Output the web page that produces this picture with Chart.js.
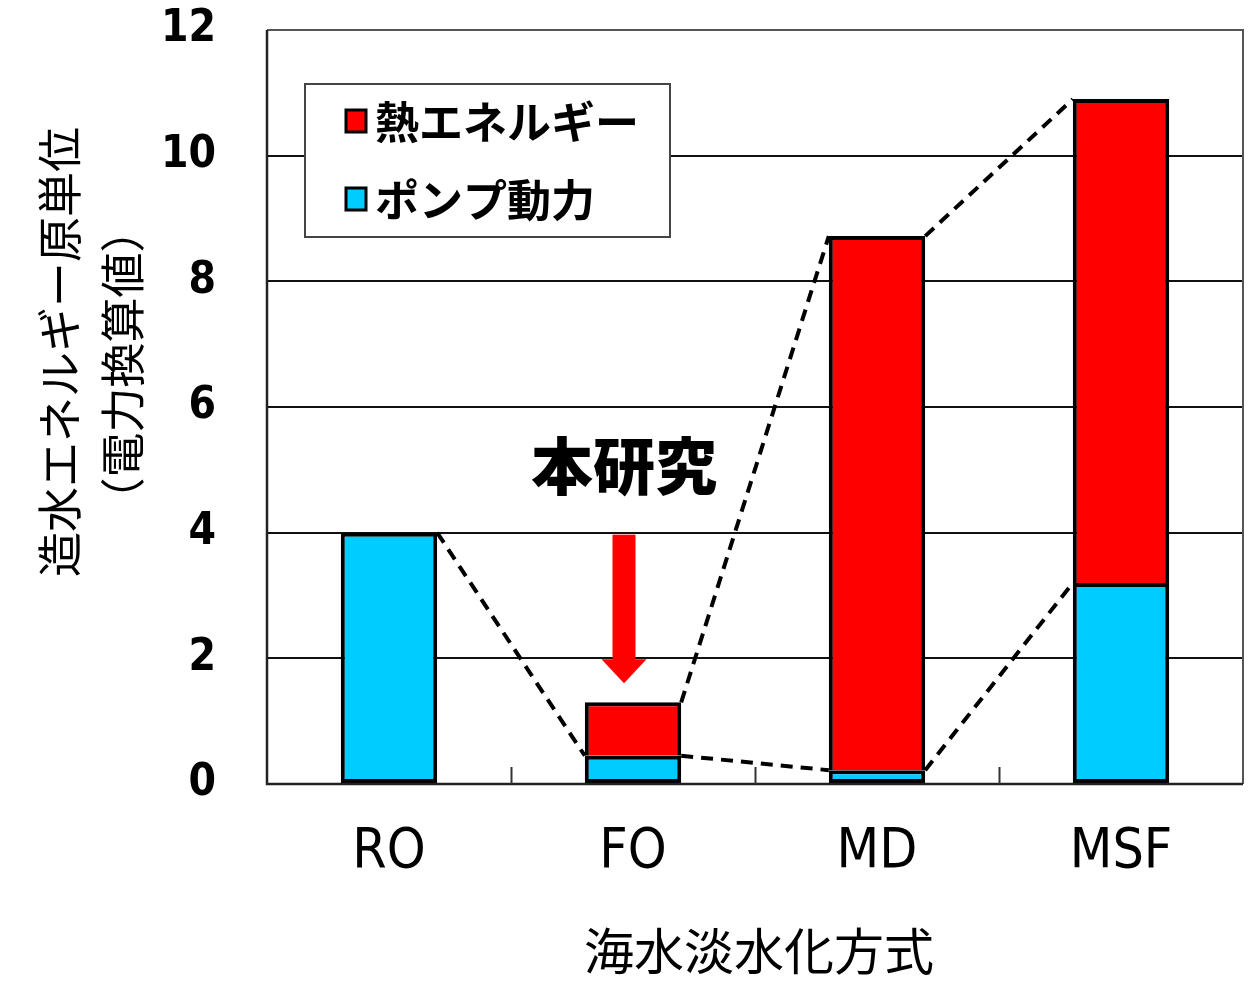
<!DOCTYPE html>
<html lang="ja">
<head>
<meta charset="utf-8">
<title>海水淡水化方式別 造水エネルギー原単位</title>
<script src="https://cdn.jsdelivr.net/npm/chart.js@4.4.1/dist/chart.umd.min.js"></script>
<style>
  html, body { margin: 0; padding: 0; background: #fff; }
  #wrap { width: 1254px; height: 984px; }
</style>
</head>
<body>
<div id="wrap"><canvas id="c" width="1254" height="984"></canvas></div>
<script>
// Desalination methods and their specific energy use (electricity equivalent)
const categories = ['RO', 'FO', 'MD', 'MSF'];
const pumpPower = [4.0, 0.45, 0.22, 3.2];       // ポンプ動力
const thermalEnergy = [null, 0.85, 8.5, 7.7];  // 熱エネルギー
const yMin = 0, yMax = 12, yStep = 2;

const seriesNames = { pump: 'ポンプ動力', heat: '熱エネルギー' };
const highlightCategory = 'FO';
const highlightText = '本研究';
const xTitle = '海水淡水化方式';
const yTitleLines = ['造水エネルギー原単位', '（電力換算値）'];

const RED = '#ff0000';
const CYAN = '#00ccff';
const CJK = '"Noto Sans CJK JP", "Noto Sans", sans-serif';
const NARROW = '"Liberation Sans Narrow", "DejaVu Sans Condensed", "Liberation Sans", sans-serif';

// Dashed connectors between the top corners of matching segments of neighbouring bars
const connectors = {
  id: 'connectors',
  afterDatasetsDraw(chart) {
    const ctx = chart.ctx;
    ctx.save();
    ctx.strokeStyle = '#000';
    ctx.lineWidth = 4;
    ctx.setLineDash([12, 8]);
    chart.data.datasets.forEach((ds, di) => {
      const meta = chart.getDatasetMeta(di);
      for (let i = 0; i < categories.length - 1; i++) {
        if (ds.data[i] == null || ds.data[i + 1] == null) continue;
        const pa = meta.data[i].getProps(['x', 'y', 'width'], true);
        const pb = meta.data[i + 1].getProps(['x', 'y', 'width'], true);
        ctx.beginPath();
        ctx.moveTo(pa.x + pa.width / 2, pa.y);
        ctx.lineTo(pb.x - pb.width / 2, pb.y);
        ctx.stroke();
      }
    });
    ctx.restore();
  }
};

// Frame, inward category ticks, legend box, arrow callout and axis titles
const decorations = {
  id: 'decorations',
  afterDraw(chart) {
    const ctx = chart.ctx;
    const area = chart.chartArea;
    const ys = chart.scales.y;
    ctx.save();

    // plot frame
    ctx.strokeStyle = '#555';
    ctx.lineWidth = 2;
    ctx.beginPath();
    ctx.moveTo(area.left, area.top);
    ctx.lineTo(area.right, area.top);
    ctx.lineTo(area.right, area.bottom);
    ctx.stroke();
    ctx.strokeStyle = '#222';
    ctx.lineWidth = 2.5;
    ctx.beginPath();
    ctx.moveTo(area.left, area.top);
    ctx.lineTo(area.left, area.bottom);
    ctx.lineTo(area.right, area.bottom);
    ctx.stroke();

    // inward tick marks between categories
    ctx.strokeStyle = '#333';
    ctx.lineWidth = 2;
    const step = (area.right - area.left) / categories.length;
    for (let i = 1; i < categories.length; i++) {
      const x = Math.round(area.left + step * i) + 0.5;
      ctx.beginPath();
      ctx.moveTo(x, area.bottom);
      ctx.lineTo(x, area.bottom - 17);
      ctx.stroke();
    }

    // legend
    const lg = { x: 305, y: 84, w: 365, h: 153 };
    ctx.fillStyle = '#fff';
    ctx.fillRect(lg.x, lg.y, lg.w, lg.h);
    ctx.strokeStyle = '#444';
    ctx.lineWidth = 2;
    ctx.strokeRect(lg.x, lg.y, lg.w, lg.h);
    const items = [
      { label: seriesNames.heat, color: RED, cy: 121 },
      { label: seriesNames.pump, color: CYAN, cy: 199 }
    ];
    items.forEach(it => {
      ctx.fillStyle = it.color;
      ctx.fillRect(346, it.cy - 11, 20, 22);
      ctx.strokeStyle = '#000';
      ctx.lineWidth = 3;
      ctx.strokeRect(346, it.cy - 11, 20, 22);
      ctx.fillStyle = '#000';
      ctx.font = 'bold 44px ' + CJK;
      ctx.textAlign = 'left';
      ctx.textBaseline = 'middle';
      ctx.fillText(it.label, 375, it.cy + 1);
    });

    // arrow pointing at the highlighted bar
    const hi = categories.indexOf(highlightCategory);
    const bar = chart.getDatasetMeta(1).data[hi].getProps(['x', 'y'], true);
    const ax = bar.x - 9;
    const shaftTop = ys.getPixelForValue(4) + 2;
    const tip = bar.y - 19;
    const headH = 24;
    ctx.fillStyle = RED;
    ctx.fillRect(ax - 11.5, shaftTop, 23, tip - headH - shaftTop + 1);
    ctx.beginPath();
    ctx.moveTo(ax - 22.5, tip - headH);
    ctx.lineTo(ax + 22.5, tip - headH);
    ctx.lineTo(ax, tip);
    ctx.closePath();
    ctx.fill();
    ctx.fillStyle = '#000';
    ctx.font = '900 62px ' + CJK;
    ctx.textAlign = 'center';
    ctx.textBaseline = 'middle';
    ctx.fillText(highlightText, ax, shaftTop - 68);

    // x axis title
    ctx.font = '50px ' + CJK;
    ctx.fillText(xTitle, (area.left + area.right) / 2 + 4, 951);

    // y axis title, two rotated lines
    ctx.font = '45px ' + CJK;
    ctx.save();
    ctx.translate(60, 352);
    ctx.rotate(-Math.PI / 2);
    ctx.fillText(yTitleLines[0], 0, 0);
    ctx.restore();
    ctx.save();
    ctx.translate(123, 365);
    ctx.rotate(-Math.PI / 2);
    ctx.fillText(yTitleLines[1], 0, 0);
    ctx.restore();

    ctx.restore();
  }
};

// keep the plot area fixed: no extra room reserved for overhanging tick labels
function noOverhang(scale) {
  scale.paddingTop = 0;
  scale.paddingBottom = 0;
  scale.paddingLeft = 0;
  scale.paddingRight = 0;
}

new Chart(document.getElementById('c'), {
  type: 'bar',
  data: {
    labels: categories,
    datasets: [
      {
        label: seriesNames.pump,
        data: pumpPower,
        backgroundColor: CYAN,
        borderColor: '#000',
        borderWidth: 4,
        borderSkipped: false,
        barPercentage: 0.395,
        categoryPercentage: 1
      },
      {
        label: seriesNames.heat,
        data: thermalEnergy,
        backgroundColor: RED,
        borderColor: '#000',
        borderWidth: { top: 4, left: 4, right: 4, bottom: 0 },
        borderSkipped: false,
        barPercentage: 0.395,
        categoryPercentage: 1
      }
    ]
  },
  options: {
    responsive: false,
    animation: false,
    devicePixelRatio: 1,
    layout: { padding: { left: 0, top: 30, right: 11, bottom: 0 } },
    plugins: {
      legend: { display: false },
      tooltip: { enabled: false }
    },
    scales: {
      x: {
        stacked: true,
        grid: { display: false, drawTicks: false },
        border: { display: false },
        ticks: {
          color: '#000',
          padding: 36,
          font: { family: NARROW, size: 55 }
        },
        afterFit(scale) { scale.height = 200; noOverhang(scale); }
      },
      y: {
        stacked: true,
        min: yMin,
        max: yMax,
        grid: { color: '#111', lineWidth: 2, drawTicks: false },
        border: { display: false },
        ticks: {
          stepSize: yStep,
          color: '#000',
          padding: 51,
          font: { family: NARROW, size: 44, weight: 'bold' }
        },
        afterFit(scale) { scale.width = 267; noOverhang(scale); }
      }
    }
  },
  plugins: [connectors, decorations]
});
</script>
</body>
</html>
